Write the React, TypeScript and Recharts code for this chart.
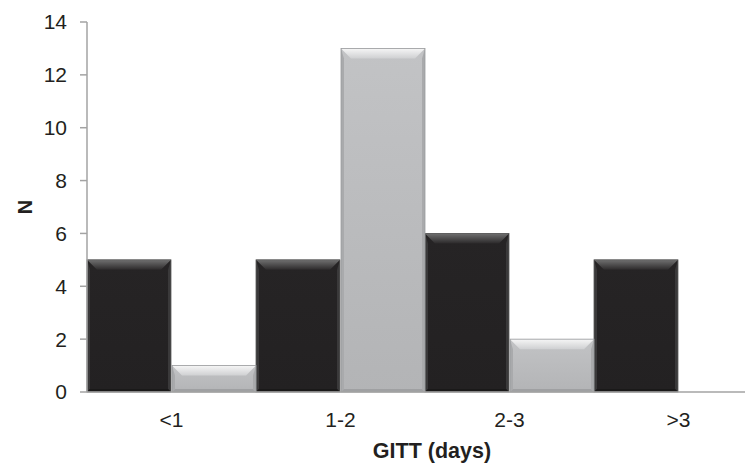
import React from 'react';
import { BarChart, Bar, XAxis, YAxis, Label } from 'recharts';

const categories = ['<1', '1-2', '2-3', '>3'];
const blackValues = [5, 5, 6, 5];
const grayValues = [1, 13, 2, 0];
const yTicks = [0, 2, 4, 6, 8, 10, 12, 14];

const data = categories.map((c, i) => ({ cat: c, black: blackValues[i], gray: grayValues[i] }));

const FONT = 'Liberation Sans, Arial, Helvetica, sans-serif';
const TEXT = '#231f20';
const AXIS = '#a3a3a3';

const makeBevel = (kind: 'dark' | 'light') => (props: any) => {
  const { x, y, width: w, height: h, index } = props;
  if (!h || h <= 0.5) return null;
  const b = Math.min(10, h / 2);
  const s = 3;
  const id = `${kind}-${index}`;
  const dark = kind === 'dark';
  const bodyTop = dark ? '#262425' : '#c2c3c5';
  const bodyBot = dark ? '#232122' : '#b3b4b6';
  const topA = dark ? '#707070' : '#f6f6f6';
  const topB = dark ? '#2c2a2b' : '#cfd0d2';
  const side = dark ? '#3a393a' : '#a9aaac';
  const bottom = dark ? '#1a1919' : '#9fa0a2';
  const outline = dark ? '#5a5a5a' : '#9a9b9d';
  return (
    <g>
      <defs>
        <linearGradient id={`body-${id}`} x1="0" y1="0" x2="0" y2="1">
          <stop offset="0%" stopColor={bodyTop} />
          <stop offset="100%" stopColor={bodyBot} />
        </linearGradient>
        <linearGradient id={`top-${id}`} x1="0" y1="0" x2="0" y2="1">
          <stop offset="0%" stopColor={topA} />
          <stop offset="100%" stopColor={topB} />
        </linearGradient>
      </defs>
      <rect x={x} y={y} width={w} height={h} fill={`url(#body-${id})`} />
      <polygon points={`${x},${y} ${x + s},${y + b} ${x + s},${y + h - s} ${x},${y + h}`} fill={side} />
      <polygon points={`${x + w},${y} ${x + w - s},${y + b} ${x + w - s},${y + h - s} ${x + w},${y + h}`} fill={side} />
      <polygon points={`${x},${y + h} ${x + s},${y + h - s} ${x + w - s},${y + h - s} ${x + w},${y + h}`} fill={bottom} />
      <polygon points={`${x},${y} ${x + w},${y} ${x + w - b},${y + b} ${x + b},${y + b}`} fill={`url(#top-${id})`} />
      <rect x={x} y={y} width={w} height={h} fill="none" stroke={outline} strokeWidth={0.8} />
    </g>
  );
};

const DarkBar = makeBevel('dark');
const LightBar = makeBevel('light');

const YTitle = (props: any) => {
  const vb = props.viewBox || {};
  const cy = vb.y + vb.height / 2;
  const cx = 24;
  return (
    <text
      x={cx}
      y={cy}
      transform={`rotate(-90, ${cx}, ${cy})`}
      textAnchor="middle"
      fontFamily={FONT}
      fontWeight="bold"
      fontSize={20}
      fill={TEXT}
    >
      N
    </text>
  );
};

export default function App() {
  return (
    <div style={{ width: 745, height: 457, overflow: 'hidden' }}>
      <BarChart
        width={755}
        height={457}
        data={data}
        margin={{ top: 14, right: 0, left: 0, bottom: 0 }}
        barCategoryGap={0}
        barGap={1}
      >
        <XAxis
          dataKey="cat"
          height={73}
          tickLine={false}
          tickSize={6}
          tickMargin={14}
          axisLine={{ stroke: AXIS, strokeWidth: 1.5 }}
          tick={{ fontSize: 21, fill: TEXT, fontFamily: FONT }}
          interval={0}
        >
          <Label
            value="GITT (days)"
            position="insideBottom"
            offset={7}
            dx={7}
            style={{ fontSize: 21.5, fontWeight: 'bold', fill: TEXT, fontFamily: FONT }}
          />
        </XAxis>
        <YAxis
          width={79}
          domain={[0, 14]}
          ticks={yTicks}
          interval={0}
          tickSize={7}
          tickMargin={13}
          tickLine={{ stroke: AXIS, strokeWidth: 1.5 }}
          axisLine={{ stroke: AXIS, strokeWidth: 1.5 }}
          tick={{ fontSize: 21, fill: TEXT, fontFamily: FONT }}
          label={<YTitle />}
        />
        <Bar dataKey="black" fill="#242223" shape={DarkBar} isAnimationActive={false} />
        <Bar dataKey="gray" fill="#bcbdbf" shape={LightBar} isAnimationActive={false} />
      </BarChart>
    </div>
  );
}
